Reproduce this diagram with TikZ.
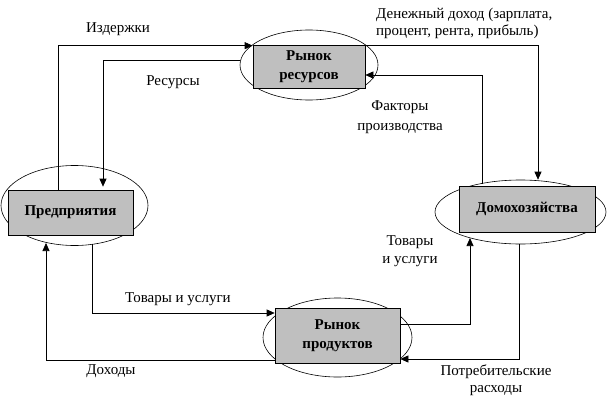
\documentclass[tikz,border=0pt]{standalone}
\usepackage{fontspec}
\setmainfont{Liberation Serif}
\usetikzlibrary{arrows.meta,shapes.geometric}
\begin{document}
\begin{tikzpicture}[x=1pt,y=-1pt,
  every node/.style={font=\fontsize{15}{17}\selectfont},
  box/.style={draw, line width=0.7pt, fill=black!25, inner sep=0pt, align=center,
    font=\fontsize{15}{19}\selectfont\bfseries},
  oval/.style={draw, ellipse, line width=0.6pt, inner sep=0pt},
  arr/.style={line width=0.7pt, -{Triangle[length=8pt,width=7pt]}},
  lbl/.style={inner sep=0pt, align=center}]
\useasboundingbox (0,0) rectangle (607,404);
% ellipses
\node[oval, minimum width=138pt, minimum height=70pt] (er) at (309,65) {};
\node[oval, minimum width=147pt, minimum height=80pt] (ep) at (74.5,205.5) {};
\node[oval, minimum width=171pt, minimum height=64pt] (ed) at (520.5,212) {};
\node[oval, minimum width=149pt, minimum height=79pt] (eq) at (337.5,337.5) {};
% boxes
\node[box, minimum width=112pt, minimum height=43pt] (rr) at (309,66.5) {Рынок\\ресурсов};
\node[box, minimum width=125pt, minimum height=45pt] (pr) at (70.5,212.5) {Предприятия};
\node[box, minimum width=136pt, minimum height=46pt] (dh) at (527,209) {Домохозяйства};
\node[box, minimum width=125pt, minimum height=55pt] (rp) at (337.5,335.5) {Рынок\\продуктов};
% free ends on ellipses
\coordinate (f0) at (482,183.5);
\coordinate (f1) at (92,244.4);
\coordinate (f2) at (46,243);
\coordinate (f3) at (470,238);
\coordinate (f4) at (519,244);
% connectors
\draw[arr] ([xshift=-12.5pt]pr.north) |- ([yshift=-1pt]rr.north west);
\draw[arr] ([yshift=5pt]er.west) -| ([xshift=32.5pt,yshift=3pt]pr.north);
\draw[arr] ([yshift=-1pt]rr.north east) -| ([xshift=17.5pt]ed.north);
\draw[arr] (f0) |- ([yshift=-8.5pt]rr.east);
\draw[arr] (f1) |- ([yshift=22.5pt]rp.west);
\draw[arr] ([yshift=-24.5pt]rp.west) -| (f2);
\draw[arr] ([yshift=11.5pt]rp.east) -| (f3);
\draw[arr] (f4) |- ([yshift=-23.5pt]rp.east);
% labels
\node[lbl] (l1) at (118,29) {Издержки};
\node[lbl] (l2) at (173,82) {Ресурсы};
\node[lbl, anchor=west, align=left] (l3) at (376,23.5) {Денежный доход (зарплата,\\процент, рента, прибыль)};
\node[lbl, font=\fontsize{15}{20}\selectfont] (l4) at (400,117) {Факторы\\производства};
\node[lbl] (l5) at (178,299) {Товары и услуги};
\node[lbl] (l6) at (111,371) {Доходы};
\node[lbl, font=\fontsize{15}{18}\selectfont] (l7) at (410,251) {Товары\\и услуги};
\node[lbl] (l8) at (496,380.5) {Потребительские\\расходы};
\end{tikzpicture}
\end{document}
